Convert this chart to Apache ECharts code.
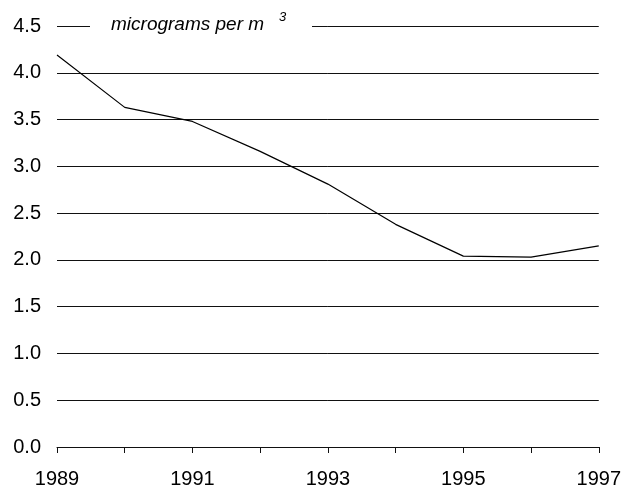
<!DOCTYPE html>
<html>
<head>
<meta charset="utf-8">
<script src="https://cdn.jsdelivr.net/npm/echarts@6/dist/echarts.min.js"></script>
<style>
html,body{margin:0;padding:0;background:#fff;}
#chart{width:624px;height:489px;}
</style>
</head>
<body>
<div id="chart"></div>
<script>
var years = [1989, 1990, 1991, 1992, 1993, 1994, 1995, 1996, 1997];
var values = [4.19, 3.63, 3.48, 3.16, 2.81, 2.38, 2.04, 2.03, 2.15];
var unitText = 'micrograms per m';
var unitSup = '3';

var chart = echarts.init(document.getElementById('chart'), null, {renderer: 'canvas'});
var font = '"Liberation Sans", Arial, sans-serif';
var gridColor = '#111';

chart.setOption({
  animation: false,
  backgroundColor: '#fff',
  grid: {left: 57, right: 23, top: 26, bottom: 39, containLabel: false},
  xAxis: {
    type: 'value',
    min: 1989, max: 1997, interval: 1,
    axisLine: {show: true, lineStyle: {color: gridColor, width: 1}},
    axisTick: {show: true, inside: false, length: 6, lineStyle: {color: gridColor, width: 1}},
    splitLine: {show: false},
    axisLabel: {
      margin: 22, fontFamily: font, fontSize: 20, color: '#000',
      formatter: function (v) { return (v % 2 === 1) ? String(v) : ''; }
    }
  },
  yAxis: {
    type: 'value',
    min: 0, max: 4.5, interval: 0.5,
    axisLine: {show: false},
    axisTick: {show: false},
    splitLine: {show: true, lineStyle: {color: gridColor, width: 1}},
    axisLabel: {
      margin: 16, fontFamily: font, fontSize: 20, color: '#000',
      formatter: function (v) { return v.toFixed(1); }
    }
  },
  series: [{
    type: 'line',
    data: years.map(function (y, i) { return [y, values[i]]; }),
    showSymbol: false,
    lineStyle: {color: '#000', width: 1.2},
    z: 3
  }],
  graphic: [
    {type: 'rect', z: 100, shape: {x: 90, y: 18, width: 222, height: 16}, style: {fill: '#fff'}},
    {type: 'text', z: 101, x: 111, y: 25, style: {text: unitText, font: 'italic 19px ' + font, fill: '#000', textVerticalAlign: 'middle', verticalAlign: 'middle'}},
    {type: 'text', z: 101, x: 279, y: 17, style: {text: unitSup, font: 'italic 13px ' + font, fill: '#000', textVerticalAlign: 'middle', verticalAlign: 'middle'}}
  ]
});
</script>
</body>
</html>
